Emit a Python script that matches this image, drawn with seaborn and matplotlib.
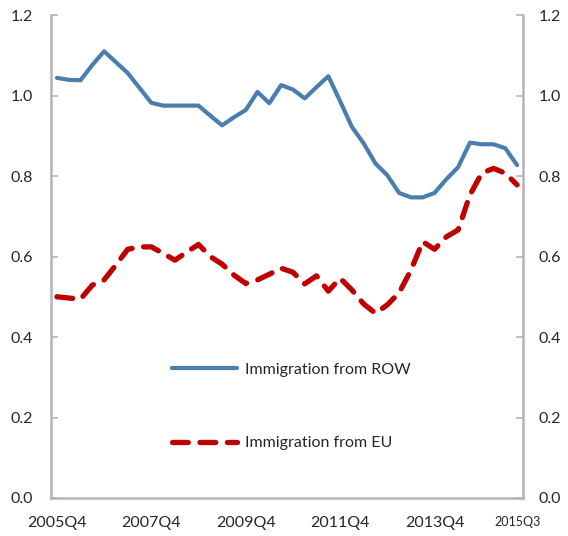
import numpy as np
import pandas as pd
import seaborn as sns
import matplotlib
matplotlib.use("Agg")
from matplotlib import pyplot as plt

# quarterly series, 2005Q4 .. 2015Q3 (40 quarters)
row_vals = [1.044, 1.039, 1.038, 1.076, 1.110, 1.083, 1.056, 1.019, 0.982, 0.975,
            0.975, 0.975, 0.975, 0.950, 0.926, 0.946, 0.964, 1.009, 0.981, 1.026,
            1.015, 0.993, 1.021, 1.048, 0.986, 0.922, 0.881, 0.831, 0.802, 0.758,
            0.747, 0.747, 0.758, 0.792, 0.822, 0.883, 0.879, 0.879, 0.869, 0.827]
eu_vals = [0.500, 0.497, 0.494, 0.529, 0.542, 0.579, 0.618, 0.624, 0.624, 0.608,
           0.591, 0.611, 0.630, 0.600, 0.581, 0.554, 0.533, 0.542, 0.556, 0.571,
           0.561, 0.532, 0.552, 0.514, 0.546, 0.517, 0.482, 0.459, 0.480, 0.510,
           0.566, 0.637, 0.618, 0.649, 0.666, 0.753, 0.807, 0.819, 0.807, 0.778]
tick_pos = [0, 8, 16, 24, 32, 39]
tick_labels = ["2005Q4", "2007Q4", "2009Q4", "2011Q4", "2013Q4", "2015Q3"]
y_ticks = [0.0, 0.2, 0.4, 0.6, 0.8, 1.0, 1.2]

df = pd.DataFrame({"q": np.arange(len(row_vals)), "row": row_vals, "eu": eu_vals})

sns.set_style("white")
plt.rcParams["font.family"] = ["Lato", "DejaVu Sans"]

fig = plt.figure(figsize=(5.68, 5.36), dpi=100)
ax = fig.add_axes([0.0898, 0.0709, 0.831, 0.901])

sns.lineplot(data=df, x="q", y="row", ax=ax, color="#4A7EAF", linewidth=3.0,
             label="Immigration from ROW")
sns.lineplot(data=df, x="q", y="eu", ax=ax, color="#C00000", linewidth=3.8,
             label="Immigration from EU", dashes=False)
ax.lines[1].set_dashes((3.0, 2.2))
ax.lines[1].set_dash_capstyle("round")
ax.lines[0].set_solid_capstyle("round")

ax.set_xlim(-0.5, 39.5)
ax.set_ylim(0, 1.2)
ax.set_xlabel("")
ax.set_ylabel("")
ax.set_xticks(tick_pos)
ax.set_xticklabels(tick_labels, fontsize=11.5)
ax.get_xticklabels()[-1].set_fontsize(9)
ax.set_xticks(np.arange(-0.5, 40, 1), minor=True)
ax.set_yticks(y_ticks)
ax.set_yticklabels(["%.1f" % v for v in y_ticks], fontsize=11.5)

gray = "#B4B4B4"
for s in ["left", "right", "bottom"]:
    ax.spines[s].set_color(gray)
    ax.spines[s].set_linewidth(1.8)
ax.spines["top"].set_visible(False)
ax.tick_params(axis="y", direction="in", length=5, color=gray, width=1.2, pad=13)
ax.tick_params(axis="x", which="major", length=0, pad=13)
ax.tick_params(axis="x", which="minor", direction="in", length=4, color=gray, width=1)

ax2 = ax.twinx()
ax2.set_ylim(0, 1.2)
ax2.set_yticks(y_ticks)
ax2.set_yticklabels(["%.1f" % v for v in y_ticks], fontsize=11.5)
ax2.tick_params(axis="y", direction="in", length=5, color=gray, width=1.2, pad=11)
for s in ax2.spines.values():
    s.set_visible(False)

leg = ax.legend(loc="upper left", bbox_to_anchor=(0.256, 0.28), frameon=False,
                fontsize=11.5, handlelength=4.1, handletextpad=0.5, labelspacing=3.7,
                borderpad=0, borderaxespad=0)

fig.savefig("out.png", dpi=100)
